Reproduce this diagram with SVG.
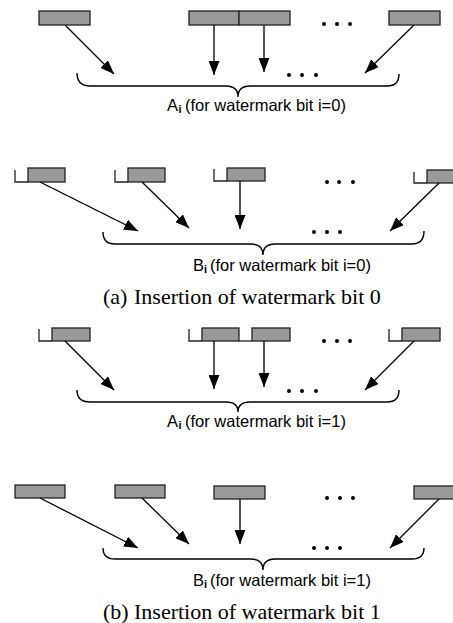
<svg xmlns="http://www.w3.org/2000/svg" width="453" height="623" viewBox="0 0 453 623">
<style>
.blk{fill:#999999;stroke:#222222;stroke-width:1.3}
.tick{fill:none;stroke:#222222;stroke-width:1.3}
.arr{stroke:#000;stroke-width:1.3;fill:none;marker-end:url(#ah)}
.brace{fill:none;stroke:#000;stroke-width:1.4}
.dot{fill:#000}
.lbl{font-family:"Liberation Sans",Arial,sans-serif;font-size:16.5px;fill:#000}
.sub{font-family:"Liberation Sans",Arial,sans-serif;font-size:11px;font-weight:bold;fill:#000}
.cap{font-family:"Liberation Serif","Times New Roman",serif;font-size:22px;fill:#000}
</style>
<defs>
<marker id="ah" markerUnits="userSpaceOnUse" markerWidth="15" markerHeight="11" refX="14" refY="5.5" orient="auto" viewBox="0 0 15 11">
<path d="M0,0 L14,5.5 L0,11 z" fill="#000"/>
</marker>
</defs>
<rect width="453" height="623" fill="#fff"/>

<!-- Panel a: A_i bit 0 -->
<g id="a1-blocks">
<rect class="blk" x="39" y="11" width="51" height="14"/>
<rect class="blk" x="189" y="11" width="50" height="14"/>
<rect class="blk" x="239" y="11" width="51" height="14"/>
<rect class="blk" x="389" y="11" width="51" height="14"/>
<circle class="dot" cx="324" cy="24" r="2"/><circle class="dot" cx="337" cy="24" r="2"/><circle class="dot" cx="350" cy="24" r="2"/>
</g>
<g id="a1-set">
<path class="brace" d="M77,73 Q77,86 90,86 L226,86 Q238,86 238,97 Q238,86 250,86 L387,86 Q399,86 399,74"/>
<circle class="dot" cx="289" cy="75" r="2"/><circle class="dot" cx="302" cy="75" r="2"/><circle class="dot" cx="316" cy="75" r="2"/>
<text class="lbl" x="167" y="111">A</text><text class="sub" x="178.5" y="113">i</text><text class="lbl" x="185" y="111">(for watermark bit i=0)</text>
</g>

<!-- Panel a: B_i bit 0 -->
<g id="b1-blocks">
<path class="tick" d="M15,170 V182 H28"/><rect class="blk" x="28" y="168" width="37" height="14"/>
<path class="tick" d="M115,170 V182 H128"/><rect class="blk" x="128" y="168" width="37" height="14"/>
<path class="tick" d="M214,169 V181 H227"/><rect class="blk" x="227" y="168" width="38" height="13"/>
<path class="tick" d="M414,172 V183 H427"/><rect class="blk" x="427" y="170" width="30" height="13"/>
<circle class="dot" cx="327" cy="182" r="2"/><circle class="dot" cx="339" cy="182" r="2"/><circle class="dot" cx="353" cy="182" r="2"/>
</g>
<g id="b1-set">
<path class="brace" d="M103,232 Q103,244 115,244 L251,244 Q263,244 263,255 Q263,244 275,244 L412,244 Q424,244 424,231"/>
<circle class="dot" cx="314" cy="232" r="2"/><circle class="dot" cx="327" cy="232" r="2"/><circle class="dot" cx="340" cy="232" r="2"/>
<text class="lbl" x="193" y="271">B</text><text class="sub" x="204" y="273">i</text><text class="lbl" x="210" y="271">(for watermark bit i=0)</text>
</g>
<g id="caption-a">
<text class="cap" x="103" y="304">(a)</text><text class="cap" x="134" y="304">Insertion of watermark bit 0</text>
</g>

<!-- Panel b: A_i bit 1 -->
<g id="a2-blocks">
<path class="tick" d="M39,329 V341 H52"/><rect class="blk" x="52" y="328" width="38" height="13"/>
<path class="tick" d="M189,329 V341 H202"/><rect class="blk" x="202" y="328" width="37" height="13"/>
<path class="tick" d="M239,341 H252"/><rect class="blk" x="252" y="328" width="38" height="13"/>
<path class="tick" d="M389,329 V341 H402"/><rect class="blk" x="402" y="328" width="38" height="13"/>
<circle class="dot" cx="324" cy="341" r="2"/><circle class="dot" cx="337" cy="341" r="2"/><circle class="dot" cx="350" cy="341" r="2"/>
</g>
<g id="a2-set">
<path class="brace" d="M77,390 Q77,402 90,402 L226,402 Q238,402 238,412 Q238,402 250,402 L387,402 Q399,402 399,390"/>
<circle class="dot" cx="289" cy="391" r="2"/><circle class="dot" cx="302" cy="391" r="2"/><circle class="dot" cx="316" cy="391" r="2"/>
<text class="lbl" x="167" y="427">A</text><text class="sub" x="178.5" y="429">i</text><text class="lbl" x="185" y="427">(for watermark bit i=1)</text>
</g>

<!-- Panel b: B_i bit 1 -->
<g id="b2-blocks">
<rect class="blk" x="15" y="485" width="50" height="13"/>
<rect class="blk" x="115" y="485" width="50" height="13"/>
<rect class="blk" x="214" y="486" width="51" height="13"/>
<rect class="blk" x="414" y="486" width="45" height="13"/>
<circle class="dot" cx="327" cy="498" r="2"/><circle class="dot" cx="340" cy="498" r="2"/><circle class="dot" cx="353" cy="498" r="2"/>
</g>
<g id="b2-set">
<path class="brace" d="M103,548 Q103,559 115,559 L251,559 Q263,559 263,570 Q263,559 275,559 L412,559 Q424,559 424,548"/>
<circle class="dot" cx="314" cy="548" r="2"/><circle class="dot" cx="327" cy="548" r="2"/><circle class="dot" cx="340" cy="548" r="2"/>
<text class="lbl" x="193" y="586">B</text><text class="sub" x="204" y="588">i</text><text class="lbl" x="210" y="586">(for watermark bit i=1)</text>
</g>
<g id="caption-b">
<text class="cap" x="103" y="619">(b)</text><text class="cap" x="134" y="619">Insertion of watermark bit 1</text>
</g>

<g id="connectors">
<line class="arr" x1="65" y1="25" x2="114" y2="74"/>
<line class="arr" x1="214" y1="25" x2="214" y2="75"/>
<line class="arr" x1="264" y1="25" x2="264" y2="72"/>
<line class="arr" x1="414" y1="25" x2="365" y2="73"/>

<line class="arr" x1="40" y1="182" x2="138" y2="231"/>
<line class="arr" x1="142" y1="182" x2="189" y2="228"/>
<line class="arr" x1="240" y1="181" x2="240" y2="229"/>
<line class="arr" x1="439" y1="183" x2="390" y2="231"/>

<line class="arr" x1="65" y1="341" x2="114" y2="390"/>
<line class="arr" x1="214" y1="341" x2="214" y2="389"/>
<line class="arr" x1="264" y1="341" x2="264" y2="387"/>
<line class="arr" x1="414" y1="341" x2="365" y2="390"/>

<line class="arr" x1="40" y1="498" x2="138" y2="548"/>
<line class="arr" x1="142" y1="498" x2="189" y2="544"/>
<line class="arr" x1="240" y1="499" x2="240" y2="544"/>
<line class="arr" x1="439" y1="499" x2="390" y2="548"/>
</g>
</svg>
